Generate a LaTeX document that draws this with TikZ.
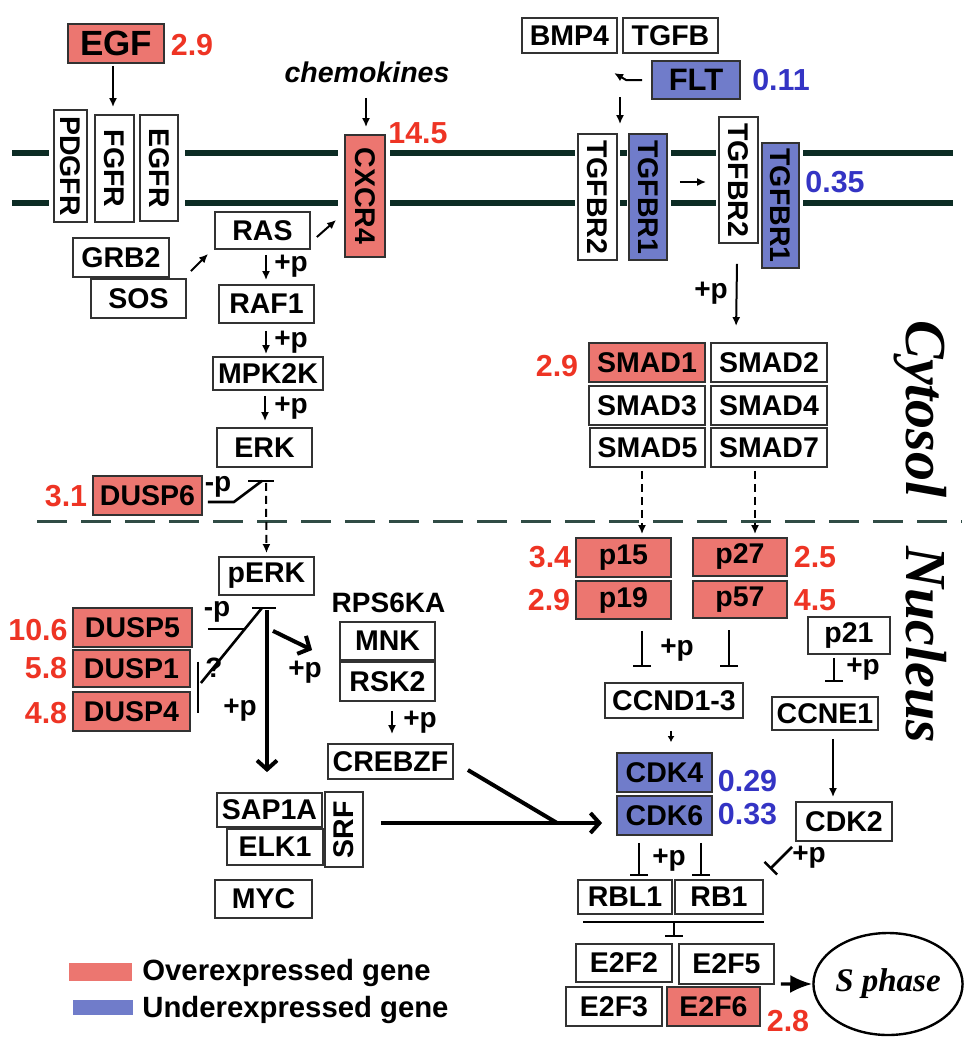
\documentclass[tikz,border=0pt]{standalone}
\usepackage{fontspec}
\setmainfont{Liberation Sans}
\newfontfamily\serifface{Liberation Serif}
\usetikzlibrary{arrows.meta,calc,shapes.geometric}
\definecolor{ovr}{RGB}{236,118,112}
\definecolor{und}{RGB}{112,124,202}
\definecolor{rnum}{RGB}{238,52,36}
\definecolor{bnum}{RGB}{52,52,196}
\definecolor{memb}{RGB}{12,44,36}
\definecolor{bord}{RGB}{50,50,50}
\begin{document}
\begin{tikzpicture}[x=0.5pt,y=-0.5pt,
  box/.style={draw=bord, line width=0.9pt, fill=white, inner sep=0pt, font=\fontsize{14.25}{15}\selectfont\bfseries},
  sz/.style 2 args={minimum width=#1*0.5pt, minimum height=#2*0.5pt},
  over/.style={fill=ovr}, under/.style={fill=und},
  rn/.style={text=rnum, inner sep=0pt, font=\fontsize{15.2}{16}\selectfont\bfseries},
  bn/.style={text=bnum, inner sep=0pt, font=\fontsize{15.2}{16}\selectfont\bfseries},
  lbl/.style={inner sep=0pt, font=\fontsize{14}{15}\selectfont\bfseries},
  arr/.style={line width=1pt, -{Latex[length=4.5pt,width=4pt]}},
  sarr/.style={line width=1pt, -{Latex[length=3pt,width=3.5pt]}},
  tarr/.style={line width=2pt, -{Straight Barb[length=4.5pt,width=10pt]}},
  barr/.style={line width=1.6pt, -{Latex[length=11pt,width=9pt]}},
  inh/.style={line width=1.3pt, -{Bar[width=9pt]}},
  thk/.style={line width=1.3pt},
  darr/.style={arr, dash pattern=on 4pt off 2.5pt},
  memline/.style={draw=memb, line width=3pt},
  vert/.style={font=\fontsize{29}{30}\serifface\bfseries\itshape, inner sep=0pt, rotate=-90},
]
\useasboundingbox (0,0) rectangle (975,1050);

% membranes
\foreach \a/\b in {12/49,185/338,390/575,620/627,671/716,803/953}{
  \draw[memline] (\a,153) -- (\b,153);
  \draw[memline] (\a,203) -- (\b,203);
}
% cytosol / nucleus divider
\draw[line width=1.5pt, draw=memb!85, dash pattern=on 15pt off 7pt] (37,521) -- (962,521);

% ---- left pathway ----
\node[box, over, sz={96}{39}, font=\fontsize{17.5}{18}\selectfont\bfseries] (egf) at (116,43.5) {EGF};
\node[rn] at (192,45) {2.9};
\node[box, sz={112}{33}, rotate=-90] (pdgfr) at (70.5,166) {PDGFR};
\node[box, sz={107}{39}, rotate=-90] (fgfr) at (114.5,168.5) {FGFR};
\node[box, sz={106}{38}, rotate=-90] (egfr) at (159,168) {EGFR};
\node[inner sep=0pt, font=\fontsize{14.25}{15}\selectfont\bfseries\itshape] (chemo) at (367,72) {chemokines};
\node[box, over, sz={122}{40}, rotate=-90] (cxcr4) at (365,196) {CXCR4};
\node[rn] at (418,133) {14.5};
\node[box, sz={96}{39}] (grb2) at (121,257.5) {GRB2};
\node[box, sz={95}{39}] (sos) at (138.5,298.5) {SOS};
\node[box, sz={95}{37}] (ras) at (262.5,230.5) {RAS};
\node[box, sz={95}{38}] (raf1) at (266.5,304) {RAF1};
\node[box, sz={110}{33}] (mpk2k) at (268,373.5) {MPK2K};
\node[box, sz={95}{39}] (erk) at (264.5,447.5) {ERK};
\node[box, over, sz={109}{39}] (dusp6) at (147.5,495.5) {DUSP6};
\node[rn] at (66,496) {3.1};
\node[box, sz={95}{38}] (perk) at (266.5,576) {pERK};
\node[box, over, sz={119}{39}] (dusp5) at (132.5,627.5) {DUSP5};
\node[rn] at (38,630) {10.6};
\node[box, over, sz={117}{37}] (dusp1) at (131.5,668.5) {DUSP1};
\node[rn] at (46,668) {5.8};
\node[box, over, sz={117}{39}] (dusp4) at (131.5,711.5) {DUSP4};
\node[rn] at (46,713) {4.8};
\node[lbl] (rps) at (388.5,603) {RPS6KA};
\node[box, sz={95}{38}] (mnk) at (387.5,641) {MNK};
\node[box, sz={95}{39}] (rsk2) at (387.5,681.5) {RSK2};
\node[box, sz={125}{35}] (crebzf) at (390.5,761.5) {CREBZF};
\node[box, sz={105}{34}] (sap1a) at (269.5,810) {SAP1A};
\node[box, sz={96}{36}] (elk1) at (275,847) {ELK1};
\node[box, sz={75}{38}, rotate=90] (srf) at (344,829.5) {SRF};
\node[box, sz={97}{38}] (myc) at (263.5,899) {MYC};

% ---- right pathway ----
\node[box, sz={95}{35}] (bmp4) at (569.5,35.5) {BMP4};
\node[box, sz={95}{35}] (tgfb) at (670.5,35.5) {TGFB};
\node[box, under, sz={88}{38}, font=\fontsize{15.5}{16}\selectfont\bfseries] (flt) at (696,80) {FLT};
\node[bn] at (781,80.5) {0.11};
\node[box, sz={126}{39}, rotate=-90] (tgfbr2a) at (597.5,197) {TGFBR2};
\node[box, under, sz={126}{38}, rotate=-90] (tgfbr1a) at (648,197) {TGFBR1};
\node[box, sz={126}{39}, rotate=-90] (tgfbr2b) at (738.5,180) {TGFBR2};
\node[box, under, sz={125}{37}, rotate=-90] (tgfbr1b) at (780.5,205.5) {TGFBR1};
\node[bn] at (835,182.5) {0.35};
\node[box, over, sz={116}{39}] (smad1) at (647,362.5) {SMAD1};
\node[rn] at (557,366) {2.9};
\node[box, sz={116}{39}] (smad2) at (769,362.5) {SMAD2};
\node[box, sz={116}{39}] (smad3) at (647,405.5) {SMAD3};
\node[box, sz={116}{39}] (smad4) at (769,405.5) {SMAD4};
\node[box, sz={115}{39}] (smad5) at (647.5,447.5) {SMAD5};
\node[box, sz={116}{39}] (smad7) at (769,447.5) {SMAD7};
\node[box, over, sz={95}{39}] (p15) at (623.5,557.5) {p15};
\node[rn] at (550,557) {3.4};
\node[box, over, sz={95}{38}] (p19) at (623.5,600) {p19};
\node[rn] at (549,600) {2.9};
\node[box, over, sz={94}{38}] (p27) at (740,557) {p27};
\node[rn] at (815,557) {2.5};
\node[box, over, sz={94}{37}] (p57) at (740,599.5) {p57};
\node[rn] at (815,600) {4.5};
\node[box, sz={138}{35}] (ccnd) at (674,700.5) {CCND1-3};
\node[box, sz={82}{37}] (p21) at (849,635.5) {p21};
\node[box, sz={106}{33}] (ccne1) at (825,713.5) {CCNE1};
\node[box, under, sz={95}{39}] (cdk4) at (664.5,772.5) {CDK4};
\node[bn] at (747.5,781) {0.29};
\node[box, under, sz={95}{39}] (cdk6) at (664.5,815.5) {CDK6};
\node[bn] at (747.5,814) {0.33};
\node[box, sz={96}{39}] (cdk2) at (844,821.5) {CDK2};
\node[box, sz={94}{34}] (rbl1) at (625,897) {RBL1};
\node[box, sz={88}{34}] (rb1) at (719,897) {RB1};
\node[box, sz={96}{38}] (e2f2) at (624,963) {E2F2};
\node[box, sz={95}{40}] (e2f5) at (726.5,964) {E2F5};
\node[box, sz={96}{39}] (e2f3) at (614,1006.5) {E2F3};
\node[box, over, sz={93}{39}] (e2f6) at (713.5,1006.5) {E2F6};
\node[rn] at (788,1021) {2.8};
\node[draw=black, line width=1.2pt, ellipse, inner sep=0pt, sz={130}{102},
      font=\fontsize{16.5}{17}\serifface\bfseries\itshape] (sphase) at (888,984) {S phase};

\node[vert] (cyt) at (920,409) {Cytosol};
\node[vert] (nuc) at (926,645) {Nucleus};

% ---- legend ----
\node[fill=ovr, inner sep=0pt, sz={63}{18}] (legr) at (100.5,972) {};
\node[fill=und, inner sep=0pt, sz={60}{15}] (legb) at (103,1007.5) {};
\node[anchor=west, inner sep=0pt, font=\fontsize{14.65}{15}\selectfont\bfseries] (legrt) at (142,973) {Overexpressed gene};
\node[anchor=west, inner sep=0pt, font=\fontsize{14.65}{15}\selectfont\bfseries] (legbt) at (142,1010) {Underexpressed gene};

% ---- connectors, left ----
\draw[arr] ([shift={(-3,2)}]egf.south) -- ([shift={(-1.5,-7)}]fgfr.west);
\draw[arr] ([shift={(-1,15)}]chemo.south) -- ([shift={(1,-7)}]cxcr4.west);
\draw[arr] ([shift={(4,-7)}]sos.north east) -- ([shift={(-6,4)}]ras.south west);
\draw[arr] ([shift={(6,6.5)}]ras.east) -- ([shift={(-8,24)}]cxcr4.south);
\draw[arr] ([shift={(3.5,5)}]ras.south) -- ([shift={(-0.5,-4)}]raf1.north);
\node[lbl] at (291,266) {+p};
\draw[arr] ([shift={(-0.5,7)}]raf1.south) -- ([shift={(-2,-2)}]mpk2k.north);
\node[lbl] at (291,342) {+p};
\draw[arr] ([shift={(-3,5)}]mpk2k.south) -- ([shift={(0.5,-6)}]erk.north);
\node[lbl] at (291,408) {+p};

% DUSP6 -| ERK
\coordinate (erkj) at ([shift={(-2.5,13)}]erk.south);
\draw[thk] ([shift={(5,6.5)}]dusp6.east) -- ++(26,0) -- (erkj);
\draw[thk] (erkj) +(-14,0) -- +(12,0);
\node[lbl] at (218,487) {-p};
\draw[darr] ([shift={(4,2)}]erkj) -- ([shift={(0,-3)}]perk.north);

% DUSPs -| pERK
\coordinate (perkj) at ([shift={(-2.5,12)}]perk.south);
\draw[thk] (perkj) +(-12,0) -- +(12,0);
\draw[thk] ([shift={(10,14.5)}]dusp1.east) -- ([shift={(-2,0)}]perkj);
\draw[thk] ([shift={(15,1.5)}]dusp5.east) -- ++(37,0);
\draw[thk] ([shift={(7,-7)}]dusp1.east) -- ([shift={(7,1.5)}]dusp4.east);
\node[lbl] at (214,668) {?};
\node[lbl] at (217,612) {-p};
\draw[tarr] ([shift={(3,2)}]perkj) -- ([shift={(-2.5,-20)}]sap1a.north);
\node[lbl] at (240,710) {+p};
\draw[tarr] ([shift={(9,23)}]perkj) -- ([shift={(-27,9)}]mnk.west);
\node[lbl] at (305,672) {+p};
\draw[arr] ([shift={(4.5,9)}]rsk2.south) -- ([shift={(1.5,-9)}]crebzf.north);
\node[lbl] at (420,722) {+p};
\draw[line width=2pt] ([shift={(14,8.5)}]crebzf.east) -- ([shift={(-59,7.5)}]cdk6.west);
\draw[tarr] ([shift={(17,-6.5)}]srf.south) -- ([shift={(-14,7.5)}]cdk6.west);

% ---- connectors, right ----
\draw[arr] ([shift={(-9,0)}]flt.west) -- ++(-16,0) -- ++(-12,-7);
\draw[arr] ([shift={(22.5,-36)}]tgfbr2a.west) -- ([shift={(22.5,-9)}]tgfbr2a.west);
\draw[arr] ([shift={(12,-15)}]tgfbr1a.north) -- ([shift={(-12,2)}]tgfbr2b.south);
\draw[arr] ([shift={(-1.5,20)}]tgfbr2b.east) -- ([shift={(26,-16)}]smad2.north west);
\node[lbl] at (711,293) {+p};
\draw[darr] ([shift={(-5.5,3)}]smad5.south) -- ([shift={(18.5,-3)}]p15.north);
\draw[darr] ([shift={(-14,3)}]smad7.south) -- ([shift={(15,-3)}]p27.north);
\draw[inh] ([shift={(18.5,11)}]p19.south) -- ([shift={(-32,-15)}]ccnd.north);
\draw[inh] ([shift={(-11,11.5)}]p57.south) -- ([shift={(55,-15)}]ccnd.north);
\node[lbl] at (677,650) {+p};
\draw[sarr] ([shift={(-3,12)}]ccnd.south) -- ([shift={(6.5,-10)}]cdk4.north);
\draw[inh] ([shift={(-15,3)}]p21.south) -- ([shift={(9,-14)}]ccne1.north);
\node[lbl] at (863,669) {+p};
\draw[arr] ([shift={(8,8)}]ccne1.south) -- ([shift={(-11,-4)}]cdk2.north);
\draw[inh] ([shift={(-25.5,7)}]cdk6.south) -- ([shift={(14,-3)}]rbl1.north);
\draw[inh] ([shift={(36.5,7)}]cdk6.south) -- ([shift={(-18,-3)}]rb1.north);
\node[lbl] at (669,860) {+p};
\draw[inh] ([shift={(-3,5)}]cdk2.south west) -- ([shift={(6,-10)}]rb1.north east);
\node[lbl] at (809,857) {+p};
\draw[line width=1.2pt] ([shift={(6,7)}]rbl1.south west) -- ([shift={(0,7)}]rb1.south east);
\coordinate (rbj) at ([shift={(1,7)}]rbl1.south east);
\draw[inh] (rbj) -- ([shift={(1,-6)}]e2f2.north east);
\draw[barr] ([shift={(6,-1)}]e2f5.south east) -- (sphase.west);
\end{tikzpicture}
\end{document}
